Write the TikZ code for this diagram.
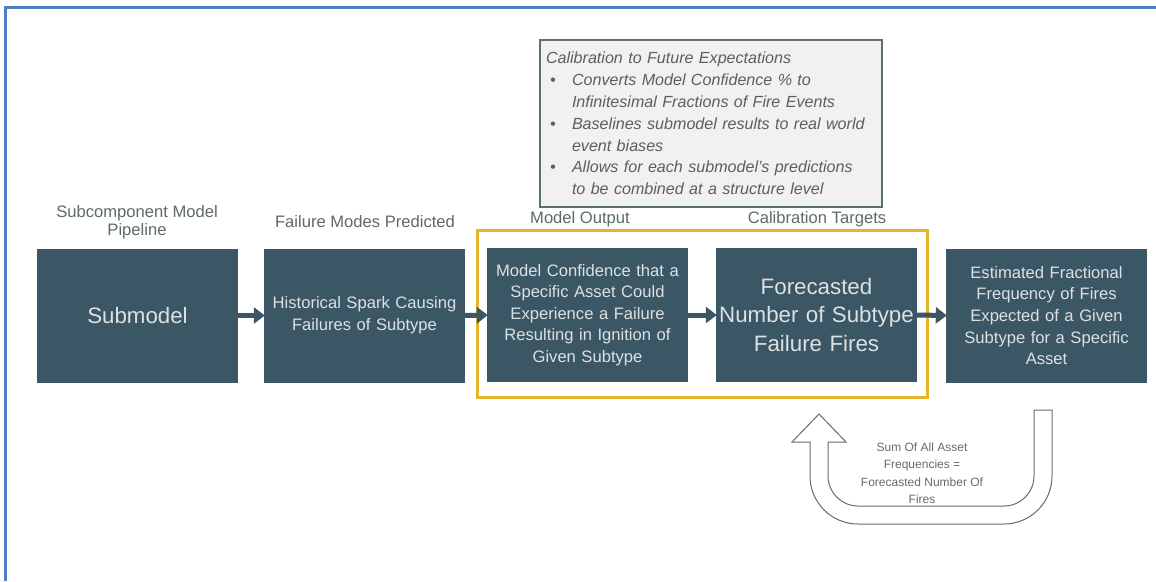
\documentclass[tikz,border=0pt]{standalone}
\usepackage{fontspec}
\setmainfont{Liberation Sans}
\usetikzlibrary{arrows.meta}
\definecolor{boxc}{HTML}{3B5664}
\definecolor{boxtxt}{HTML}{DCE1E3}
\definecolor{lblc}{HTML}{5E6A6C}
\definecolor{goldc}{HTML}{E5B42A}
\definecolor{framec}{HTML}{4F7FC2}
\definecolor{callfill}{HTML}{F1F1F1}
\definecolor{calldraw}{HTML}{5C6E70}
\definecolor{calltxt}{HTML}{5A5F60}
\definecolor{ucol}{HTML}{6A6A6A}
\tikzset{
  stagebox/.style={fill=boxc, draw=none, minimum width=201pt, minimum height=134pt, inner xsep=1pt, inner ysep=4pt, text=boxtxt, align=center, text width=199pt},
  midtxt/.style={font=\fontsize{16.6}{21.6}\selectfont},
  bigtxt/.style={font=\fontsize{22.3}{28.5}\selectfont},
  lbl/.style={text=lblc, align=center, font=\fontsize{16.6}{18.5}\selectfont},
  flowarrow/.style={draw=boxc, line width=5pt, -{Triangle[length=11pt,width=16pt]}, shorten >=-1pt},
}
\begin{document}
\begin{tikzpicture}[x=1pt,y=-1pt]
\useasboundingbox (0,0) rectangle (1156,581);
\fill[white] (0,0) rectangle (1156,581);
% outer frame (left and top)
\draw[framec, line width=3pt] (5,581) -- (5,7) -- (1156,7);

% callout
\node[fill=callfill, draw=calldraw, line width=1.5pt, minimum width=342pt, minimum height=167pt, inner xsep=6pt,
      text width=330pt, align=left, text=calltxt, font=\fontsize{16.1}{21.8}\selectfont\itshape] (call) at (711,123.5)
{Calibration to Future Expectations\\
\makebox[26pt][l]{\hspace{4pt}\textbullet}Converts Model Confidence \% to\\
\hspace*{26pt}Infinitesimal Fractions of Fire Events\\
\makebox[26pt][l]{\hspace{4pt}\textbullet}Baselines submodel results to real world\\
\hspace*{26pt}event biases\\
\makebox[26pt][l]{\hspace{4pt}\textbullet}Allows for each submodel’s predictions\\
\hspace*{26pt}to be combined at a structure level};

% gold frame
\node[draw=goldc, line width=3pt, minimum width=450pt, minimum height=167pt, inner sep=0pt] (gold) at (702,313.5) {};

% boxes
\node[stagebox, bigtxt] (b1) at (137.5,315.5) {Submodel};
\node[stagebox, midtxt] (b2) at (364.5,315.5) {Historical Spark Causing\\Failures of Subtype};
\node[stagebox, midtxt] (b3) at (587.5,315) {Model Confidence that a\\Specific Asset Could\\Experience a Failure\\Resulting in Ignition of\\Given Subtype};
\node[stagebox, bigtxt] (b4) at (816.5,315) {Forecasted\\Number of Subtype\\Failure Fires};
\node[stagebox, midtxt] (b5) at (1046.5,315.5) {Estimated Fractional\\Frequency of Fires\\Expected of a Given\\Subtype for a Specific\\Asset};

% labels
\node[lbl] (l1) at (137,222) {Subcomponent Model\\Pipeline};
\node[lbl] (l2) at (365,222) {Failure Modes Predicted};
\node[lbl] (l3) at (580,219) {Model Output};
\node[lbl] (l4) at (817,219) {Calibration Targets};

% arrows
\draw[flowarrow] (b1.east) -- (b2.west);
\draw[flowarrow] (b2.east) -- (b3.west);
\draw[flowarrow] (b3.east) -- (b4.west);
\draw[flowarrow] (b4.east) -- (b5.west);

% U-turn block arrow
\draw[ucol, line width=1pt, fill=white, line join=miter]
  (1052,410) -- (1052,476) arc[start angle=0, end angle=90, radius=48]
  -- (858,524) arc[start angle=90, end angle=180, radius=48]
  -- (810,442) -- (792,442) -- (819,414) -- (846,442) -- (828,442)
  -- (828,476) arc[start angle=180, end angle=90, radius=30]
  -- (1004,506) arc[start angle=90, end angle=0, radius=30]
  -- (1034,410) -- cycle;
\node[text=ucol, align=center, font=\fontsize{12}{17.5}\selectfont] (sum) at (922,473)
  {Sum Of All Asset\\Frequencies =\\Forecasted Number Of\\Fires};
\end{tikzpicture}
\end{document}
